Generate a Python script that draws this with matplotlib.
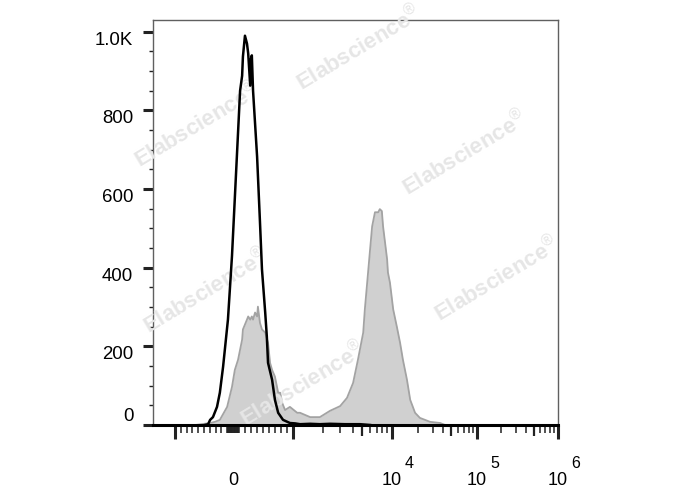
import numpy as np
import matplotlib.pyplot as plt

plt.rcParams['font.family'] = ['Liberation Sans', 'DejaVu Sans']
plt.rcParams['mathtext.fontset'] = 'custom'
plt.rcParams['mathtext.rm'] = 'Liberation Sans'

# histogram channels (display units, 0-1000 across the axis) and event counts
ctrl_ch = [128, 136, 141, 148, 158, 165, 173, 185, 195, 207, 215, 220, 222, 227,
           232, 235, 240, 242, 244, 247, 257, 264, 269, 277, 281, 284, 294, 301,
           309, 321, 338, 351, 363, 388, 412, 437, 474, 511, 536]
ctrl_counts = [0, 2, 13, 20, 46, 82, 148, 268, 430, 682, 850, 888, 937, 990,
               970, 945, 863, 932, 940, 850, 682, 518, 396, 286, 225, 158, 115, 64,
               31, 13, 5, 4, 2, 3, 2, 3, 2, 2, 0]

stain_ch = [105, 141, 153, 165, 183, 195, 202, 210, 220, 222, 232, 235, 240, 244,
            247, 252, 257, 259, 264, 269, 277, 284, 289, 294, 301, 309, 314, 319,
            326, 338, 356, 363, 388, 412, 437, 462, 479, 494, 506, 519, 523, 531,
            536, 541, 548, 556, 560, 565, 568, 578, 580, 585, 593, 602, 610, 617,
            627, 635, 647, 659, 684, 709, 721]
stain_counts = [0, 5, 8, 13, 46, 97, 140, 166, 217, 243, 268, 276, 268, 276,
                268, 286, 276, 301, 260, 243, 235, 209, 158, 140, 123, 82, 82, 56,
                38, 46, 31, 31, 20, 20, 36, 48, 69, 107, 166, 235, 294, 388,
                447, 505, 541, 541, 549, 544, 505, 421, 388, 362, 294, 250, 209, 166,
                115, 64, 31, 18, 8, 5, 0]

y_ticks = [0, 200, 400, 600, 800, 1000]
y_labels = ['0', '200', '400', '600', '800', '1.0K']
x_labels = {0: ('0', ''), 1e4: ('10', '4'), 1e5: ('10', '5'), 1e6: ('10', '6')}


def to_disp(v):
    # biexponential-like axis: linear around zero, log for the decades
    v = np.atleast_1d(np.asarray(v, float))
    out = np.empty_like(v)
    lin = np.abs(v) <= 1000
    out[lin] = np.where(v[lin] >= 0, 197.5 + v[lin] * 0.1482, 197.5 + v[lin] * 0.1432)
    hi = v > 1000
    out[hi] = np.interp(np.log10(v[hi]), [3, 4, 5, 6], [345.7, 590, 800, 1000])
    return out


fig = plt.figure(figsize=(6.88, 4.9), dpi=100)
ax = fig.add_axes([0.2224, 0.1327, 0.5887, 0.8265])

ax.fill_between(stain_ch, stain_counts, color='#d0d0d0', lw=0, zorder=2)
ax.plot(stain_ch, stain_counts, color='#a3a3a3', lw=1.3, zorder=3)

# watermark
mark_xy = [(0.51, 0.93), (0.11, 0.74), (0.77, 0.67), (0.13, 0.33), (0.85, 0.36), (0.37, 0.10)]
for mx, my in mark_xy:
    ax.text(mx, my, 'Elabscience$^{\u00ae}$', transform=ax.transAxes, rotation=31,
            fontsize=16, fontweight='bold', color='#e6e6e6', ha='center',
            va='center', zorder=4)

ax.plot(ctrl_ch, ctrl_counts, color='black', lw=1.8, zorder=5)

ax.set_xlim(0, 1000)
ax.set_ylim(0, 1030)

for s in ['left', 'top', 'right']:
    ax.spines[s].set_color('#606060')
    ax.spines[s].set_linewidth(1.0)
ax.spines['bottom'].set_color('black')
ax.spines['bottom'].set_linewidth(2.2)
ax.spines['bottom'].set_zorder(6)

# y axis
ax.set_yticks(y_ticks)
ax.set_yticklabels(y_labels)
ax.set_yticks(np.arange(50, 1030, 50), minor=True)
ax.tick_params(axis='y', which='major', direction='out', length=7.2, width=2.2,
               pad=7, labelsize=13.4, color='#222222')
ax.tick_params(axis='y', which='minor', direction='out', length=3, width=1.0, color='#222222')
for lbl in ax.get_yticklabels():
    lbl.set_va('bottom' if lbl.get_text() == '0' else 'top')

# x axis ticks
major_v = [-1000, 1000, 1e4, 1e5, 1e6]
minor_v = list(range(-900, 0, 100)) + list(range(-90, 100, 10)) + list(range(100, 1000, 100))
for dec in [1e3, 1e4, 1e5]:
    minor_v += [k * dec for k in [2, 3, 4, 6, 7, 8, 9]]
mid_v = [5e3, 5e4, 5e5]
ax.set_xticks(to_disp(major_v))
ax.set_xticklabels([''] * len(major_v))
ax.set_xticks(to_disp(minor_v), minor=True)
ax.tick_params(axis='x', which='major', direction='out', length=10, width=2.2, color='#222222')
ax.tick_params(axis='x', which='minor', direction='out', length=5.5, width=1.1, color='#222222')

sec = ax.secondary_xaxis('bottom')
sec.spines['bottom'].set_visible(False)
sec.set_xticks(to_disp(mid_v))
sec.set_xticklabels([''] * len(mid_v))
sec.tick_params(axis='x', direction='out', length=8, width=1.6, color='#222222')

for v, (base, exp) in x_labels.items():
    xpos = float(to_disp(v)[0])
    ax.annotate(base, xy=(xpos, 0), xycoords=('data', 'axes fraction'),
                xytext=(0, -60), textcoords='offset pixels', ha='center',
                va='baseline', fontsize=13)
    if exp:
        ax.annotate(exp, xy=(xpos, 0), xycoords=('data', 'axes fraction'),
                    xytext=(13, -43), textcoords='offset pixels', ha='left',
                    va='baseline', fontsize=11.5)

fig.savefig('out.png', dpi=100)
